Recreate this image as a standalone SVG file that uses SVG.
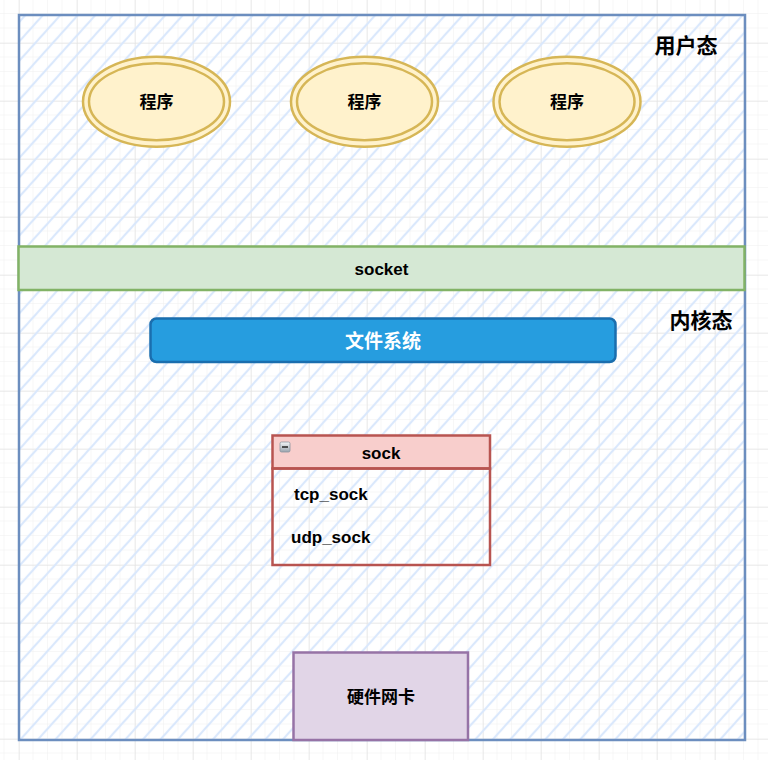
<svg xmlns="http://www.w3.org/2000/svg" width="768" height="760" viewBox="0 0 768 760">
<defs>
<pattern id="gridMinor" x="4.5" y="14" width="14.5" height="14.5" patternUnits="userSpaceOnUse">
<path d="M14.5 0V14.5M0 14.5H14.5" fill="none" stroke="#f0f0f0" stroke-width="1"/>
</pattern>
<pattern id="gridMajor" x="19" y="43" width="58" height="58" patternUnits="userSpaceOnUse">
<path d="M0 0V58M0 0H58" fill="none" stroke="#e0e0e0" stroke-width="1"/>
</pattern>
<pattern id="hatch" width="13" height="20" patternUnits="userSpaceOnUse" patternTransform="rotate(42)">
<line x1="3" y1="0" x2="3" y2="20" stroke="#dae8fc" stroke-width="2.2"/>
</pattern>
<linearGradient id="iconG" x1="0" y1="0" x2="0" y2="1">
<stop offset="0" stop-color="#f4f6f8"/>
<stop offset="1" stop-color="#9aa4ae"/>
</linearGradient>
<style>
.t{font-family:"Liberation Sans","Noto Sans CJK SC",sans-serif;font-weight:bold;fill:#000;text-anchor:middle;dominant-baseline:central}
.tl{text-anchor:start}
.ell{fill:#fff2cc;stroke:#d6b656;stroke-width:2.5}
</style>
</defs>
<rect width="768" height="760" fill="#ffffff"/>
<rect width="768" height="760" fill="url(#gridMinor)"/>
<rect width="768" height="760" fill="url(#gridMajor)"/>

<g id="container">
<rect x="19" y="15" width="726" height="725" fill="url(#hatch)"/>
<rect x="19" y="15" width="726" height="725" fill="none" stroke="#6c8ebf" stroke-width="2.5"/>
<text class="t" x="686" y="45" font-size="21">用户态</text>
<text class="t" x="701" y="320" font-size="21">内核态</text>
</g>

<g id="prog1">
<ellipse class="ell" cx="156.5" cy="101.7" rx="73.5" ry="45"/>
<ellipse class="ell" cx="156.5" cy="101.7" rx="67.5" ry="38.5"/>
<text class="t" x="156.5" y="102" font-size="17">程序</text>
</g>
<g id="prog2">
<ellipse class="ell" cx="364.5" cy="101.7" rx="73.5" ry="45"/>
<ellipse class="ell" cx="364.5" cy="101.7" rx="67.5" ry="38.5"/>
<text class="t" x="364.5" y="102" font-size="17">程序</text>
</g>
<g id="prog3">
<ellipse class="ell" cx="567" cy="101.7" rx="73.5" ry="45"/>
<ellipse class="ell" cx="567" cy="101.7" rx="67.5" ry="38.5"/>
<text class="t" x="567" y="102" font-size="17">程序</text>
</g>

<g id="socket">
<rect x="18.5" y="246.5" width="726" height="43.5" fill="#d5e8d4" stroke="#82b366" stroke-width="2.5"/>
<text class="t" x="381.5" y="269" font-size="17">socket</text>
</g>

<g id="fs">
<rect x="150.5" y="318.5" width="465" height="43.5" rx="6" fill="#269ddf" stroke="#1a6eae" stroke-width="2.5"/>
<text class="t" x="383" y="341.5" font-size="19" style="fill:#ffffff">文件系统</text>
</g>

<g id="sock">
<rect x="272.5" y="435.5" width="217.5" height="33" fill="#f8cecc" stroke="#b85450" stroke-width="2.5"/>
<rect x="272.5" y="468.5" width="217.5" height="96.5" fill="none" stroke="#b85450" stroke-width="2.5"/>
<rect x="280" y="442" width="10" height="10" rx="1.5" fill="url(#iconG)" stroke="#8a949e" stroke-width="0.8"/>
<line x1="282" y1="447" x2="288" y2="447" stroke="#222" stroke-width="1.5"/>
<text class="t" x="381" y="453" font-size="17">sock</text>
<text class="t tl" x="294" y="494" font-size="17">tcp_sock</text>
<text class="t tl" x="291" y="537" font-size="17">udp_sock</text>
</g>

<g id="nic">
<rect x="293.5" y="652.5" width="174.5" height="87.5" fill="#e1d5e7" stroke="#9673a6" stroke-width="2.5"/>
<text class="t" x="381" y="697" font-size="17">硬件网卡</text>
</g>

<g id="connectors"></g>
</svg>
